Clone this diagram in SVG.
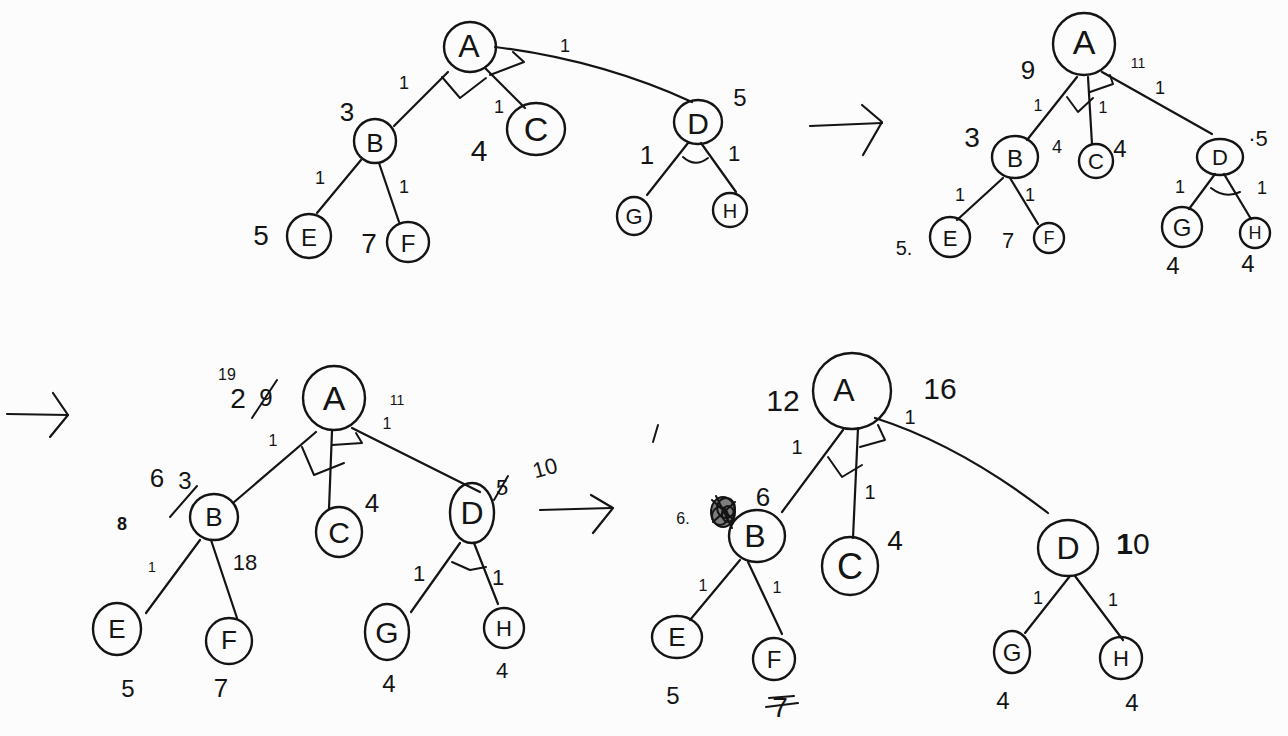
<svg xmlns="http://www.w3.org/2000/svg" width="1288" height="736" viewBox="0 0 1288 736">
  <defs>
    <style>
      .bg { fill: #fdfcfd; }
      .node ellipse { fill: none; stroke: #141414; stroke-width: 2.4; }
      .node text { font-family: "Liberation Sans", "DejaVu Sans", sans-serif; fill: #141414; text-anchor: middle; dominant-baseline: central; }
      .edge { fill: none; stroke: #141414; stroke-width: 2.2; stroke-linecap: round; stroke-linejoin: round; }
      .and { fill: none; stroke: #141414; stroke-width: 2; stroke-linecap: round; stroke-linejoin: round; }
      .lbl { font-family: "Liberation Sans", "DejaVu Sans", sans-serif; fill: #141414; text-anchor: middle; dominant-baseline: central; }
      .mark { fill: none; stroke: #141414; stroke-width: 2; stroke-linecap: round; }
    </style>
  </defs>

  <rect class="bg" x="0" y="0" width="1288" height="736"/>

  <!-- connectors: tree edges, AND arcs and the step arrows -->
  <g id="connectors">
    <!-- step 1 -->
    <line class="edge" x1="448" y1="72" x2="394" y2="126"/>
    <line class="edge" x1="485" y1="68" x2="525" y2="108"/>
    <path class="edge" d="M495,47 Q600,60 692,102"/>
    <polyline class="and" points="442,77 460,98 486,78"/>
    <polyline class="and" points="490,75 524,62 513,52"/>
    <line class="edge" x1="361" y1="160" x2="317" y2="213"/>
    <line class="edge" x1="379" y1="163" x2="399" y2="222"/>
    <line class="edge" x1="688" y1="143" x2="647" y2="195"/>
    <line class="edge" x1="701" y1="143" x2="736" y2="192"/>
    <path class="and" d="M683,157 Q695,168 708,158"/>

    <!-- arrow to step 2 -->
    <line class="edge" x1="810" y1="126" x2="882" y2="123"/>
    <polyline class="edge" points="862,105 882,122 863,155"/>

    <!-- step 2 -->
    <line class="edge" x1="1077" y1="77" x2="1027" y2="140"/>
    <line class="edge" x1="1088" y1="77" x2="1092" y2="144"/>
    <line class="edge" x1="1102" y1="72" x2="1212" y2="134"/>
    <polyline class="and" points="1067,97 1078,112 1093,98"/>
    <polyline class="and" points="1090,92 1113,84 1110,75"/>
    <line class="edge" x1="1003" y1="178" x2="957" y2="220"/>
    <line class="edge" x1="1010" y1="178" x2="1038" y2="224"/>
    <line class="edge" x1="1215" y1="174" x2="1189" y2="209"/>
    <line class="edge" x1="1224" y1="174" x2="1251" y2="219"/>
    <path class="and" d="M1211,188 Q1225,199 1240,192"/>

    <!-- arrow to step 3 -->
    <line class="edge" x1="7" y1="414" x2="68" y2="415"/>
    <polyline class="edge" points="53,393 68,415 50,437"/>

    <!-- step 3 -->
    <line class="edge" x1="316" y1="432" x2="233" y2="503"/>
    <line class="edge" x1="332" y1="431" x2="329" y2="509"/>
    <line class="edge" x1="352" y1="428" x2="480" y2="492"/>
    <polyline class="and" points="302,447 314,475 344,463"/>
    <polyline class="and" points="332,445 362,443 356,433"/>
    <line class="edge" x1="200" y1="540" x2="146" y2="613"/>
    <line class="edge" x1="211" y1="540" x2="237" y2="618"/>
    <line class="edge" x1="460" y1="543" x2="411" y2="612"/>
    <line class="edge" x1="474" y1="543" x2="498" y2="604"/>
    <polyline class="and" points="452,562 470,570 486,567"/>

    <!-- arrow to step 4 -->
    <line class="edge" x1="540" y1="510" x2="611" y2="508"/>
    <polyline class="edge" points="591,495 613,508 593,533"/>

    <!-- step 4 -->
    <line class="edge" x1="843" y1="430" x2="782" y2="512"/>
    <line class="edge" x1="858" y1="428" x2="853" y2="538"/>
    <path class="edge" d="M875,418 Q960,445 1048,513"/>
    <polyline class="and" points="828,457 842,477 862,465"/>
    <polyline class="and" points="860,447 885,440 878,425"/>
    <line class="edge" x1="740" y1="560" x2="690" y2="620"/>
    <line class="edge" x1="748" y1="562" x2="782" y2="634"/>
    <line class="edge" x1="1070" y1="576" x2="1025" y2="633"/>
    <line class="edge" x1="1075" y1="576" x2="1123" y2="640"/>
  </g>

  <!-- step 1 nodes -->
  <g id="s1-A" class="node"><ellipse cx="470" cy="47" rx="26" ry="25"/><text x="469" y="46" font-size="32">A</text></g>
  <g id="s1-B" class="node"><ellipse cx="375" cy="141" rx="21" ry="22"/><text x="375" y="143" font-size="26">B</text></g>
  <g id="s1-C" class="node"><ellipse cx="536" cy="129" rx="29" ry="26"/><text x="536" y="129" font-size="34">C</text></g>
  <g id="s1-D" class="node"><ellipse cx="698" cy="122" rx="24" ry="22"/><text x="698" y="123" font-size="30">D</text></g>
  <g id="s1-E" class="node"><ellipse cx="309" cy="236" rx="22" ry="22"/><text x="309" y="237" font-size="24">E</text></g>
  <g id="s1-F" class="node"><ellipse cx="408" cy="242" rx="21" ry="20"/><text x="408" y="243" font-size="24">F</text></g>
  <g id="s1-G" class="node"><ellipse cx="634" cy="216" rx="17" ry="19"/><text x="634" y="216" font-size="22">G</text></g>
  <g id="s1-H" class="node"><ellipse cx="730" cy="210" rx="17" ry="17"/><text x="730" y="211" font-size="20">H</text></g>

  <!-- step 2 nodes -->
  <g id="s2-A" class="node"><ellipse cx="1084" cy="44" rx="31" ry="31"/><text x="1084" y="42" font-size="34">A</text></g>
  <g id="s2-B" class="node"><ellipse cx="1015" cy="157" rx="23" ry="21"/><text x="1015" y="158" font-size="24">B</text></g>
  <g id="s2-C" class="node"><ellipse cx="1096" cy="161" rx="17" ry="17"/><text x="1096" y="161" font-size="22">C</text></g>
  <g id="s2-D" class="node"><ellipse cx="1220" cy="157" rx="23" ry="18"/><text x="1220" y="157" font-size="22">D</text></g>
  <g id="s2-E" class="node"><ellipse cx="950" cy="237" rx="20" ry="20"/><text x="950" y="238" font-size="22">E</text></g>
  <g id="s2-F" class="node"><ellipse cx="1049" cy="238" rx="15" ry="15"/><text x="1049" y="238" font-size="18">F</text></g>
  <g id="s2-G" class="node"><ellipse cx="1182" cy="227" rx="20" ry="20"/><text x="1182" y="227" font-size="24">G</text></g>
  <g id="s2-H" class="node"><ellipse cx="1255" cy="233" rx="15" ry="15"/><text x="1255" y="233" font-size="18">H</text></g>

  <!-- step 3 nodes -->
  <g id="s3-A" class="node"><ellipse cx="334" cy="398" rx="31" ry="32"/><text x="334" y="398" font-size="34">A</text></g>
  <g id="s3-B" class="node"><ellipse cx="214" cy="517" rx="24" ry="23"/><text x="214" y="517" font-size="26">B</text></g>
  <g id="s3-C" class="node"><ellipse cx="339" cy="532" rx="23" ry="25"/><text x="339" y="532" font-size="30">C</text></g>
  <g id="s3-D" class="node"><ellipse cx="472" cy="513" rx="22" ry="30"/><text x="472" y="513" font-size="32">D</text></g>
  <g id="s3-E" class="node"><ellipse cx="117" cy="629" rx="24" ry="26"/><text x="117" y="629" font-size="26">E</text></g>
  <g id="s3-F" class="node"><ellipse cx="229" cy="641" rx="23" ry="23"/><text x="229" y="640" font-size="26">F</text></g>
  <g id="s3-G" class="node"><ellipse cx="387" cy="632" rx="22" ry="28"/><text x="387" y="632" font-size="30">G</text></g>
  <g id="s3-H" class="node"><ellipse cx="504" cy="628" rx="20" ry="20"/><text x="504" y="628" font-size="22">H</text></g>

  <!-- step 4 nodes -->
  <g id="s4-A" class="node"><ellipse cx="852" cy="391" rx="39" ry="38"/><text x="844" y="390" font-size="32">A</text></g>
  <g id="s4-B" class="node"><ellipse cx="757" cy="536" rx="28" ry="26"/><text x="755" y="536" font-size="32">B</text></g>
  <g id="s4-C" class="node"><ellipse cx="850" cy="566" rx="28" ry="29"/><text x="850" y="566" font-size="36">C</text></g>
  <g id="s4-D" class="node"><ellipse cx="1068" cy="548" rx="30" ry="28"/><text x="1068" y="548" font-size="32">D</text></g>
  <g id="s4-E" class="node"><ellipse cx="677" cy="637" rx="25" ry="21"/><text x="677" y="637" font-size="26">E</text></g>
  <g id="s4-F" class="node"><ellipse cx="774" cy="659" rx="21" ry="21"/><text x="774" y="659" font-size="24">F</text></g>
  <g id="s4-G" class="node"><ellipse cx="1012" cy="652" rx="18" ry="21"/><text x="1012" y="652" font-size="24">G</text></g>
  <g id="s4-H" class="node"><ellipse cx="1121" cy="658" rx="21" ry="21"/><text x="1121" y="658" font-size="22">H</text></g>

  <!-- costs and heuristic values -->
  <g id="labels">
    <!-- step 1 -->
    <text class="lbl" x="404" y="83" font-size="18">1</text>
    <text class="lbl" x="347" y="112" font-size="26">3</text>
    <text class="lbl" x="499" y="107" font-size="18">1</text>
    <text class="lbl" x="479" y="150" font-size="30">4</text>
    <text class="lbl" x="565" y="46" font-size="18">1</text>
    <text class="lbl" x="740" y="97" font-size="24">5</text>
    <text class="lbl" x="647" y="155" font-size="26">1</text>
    <text class="lbl" x="734" y="153" font-size="22">1</text>
    <text class="lbl" x="320" y="178" font-size="18">1</text>
    <text class="lbl" x="404" y="187" font-size="18">1</text>
    <text class="lbl" x="261" y="235" font-size="28">5</text>
    <text class="lbl" x="369" y="243" font-size="28">7</text>

    <!-- step 2 -->
    <text class="lbl" x="1028" y="70" font-size="26">9</text>
    <text class="lbl" x="1138" y="63" font-size="14">11</text>
    <text class="lbl" x="1160" y="88" font-size="18">1</text>
    <text class="lbl" x="1038" y="105" font-size="16">1</text>
    <text class="lbl" x="1103" y="107" font-size="16">1</text>
    <text class="lbl" x="972" y="137" font-size="28">3</text>
    <text class="lbl" x="1057" y="147" font-size="18">4</text>
    <text class="lbl" x="1120" y="148" font-size="24">4</text>
    <text class="lbl" x="1258" y="138" font-size="22">·5</text>
    <text class="lbl" x="904" y="248" font-size="20">5.</text>
    <text class="lbl" x="960" y="195" font-size="18">1</text>
    <text class="lbl" x="1030" y="195" font-size="18">1</text>
    <text class="lbl" x="1008" y="240" font-size="22">7</text>
    <text class="lbl" x="1180" y="187" font-size="18">1</text>
    <text class="lbl" x="1262" y="188" font-size="18">1</text>
    <text class="lbl" x="1173" y="265" font-size="24">4</text>
    <text class="lbl" x="1248" y="263" font-size="24">4</text>

    <!-- step 3 -->
    <text class="lbl" x="227" y="374" font-size="16">19</text>
    <text class="lbl" x="238" y="398" font-size="28">2</text>
    <text class="lbl" x="266" y="397" font-size="24">9</text>
    <line class="mark" x1="252" y1="418" x2="277" y2="380"/>
    <text class="lbl" x="273" y="440" font-size="16">1</text>
    <text class="lbl" x="397" y="400" font-size="14">11</text>
    <text class="lbl" x="387" y="423" font-size="16">1</text>
    <text class="lbl" x="157" y="478" font-size="26">6</text>
    <text class="lbl" x="185" y="480" font-size="24">3</text>
    <line class="mark" x1="170" y1="517" x2="197" y2="486"/>
    <text class="lbl" x="122" y="524" font-size="18" font-weight="bold">8</text>
    <text class="lbl" x="152" y="567" font-size="14">1</text>
    <text class="lbl" x="245" y="562" font-size="22">18</text>
    <text class="lbl" x="372" y="503" font-size="26">4</text>
    <text class="lbl" x="502" y="487" font-size="22">5</text>
    <line class="mark" x1="494" y1="500" x2="508" y2="476"/>
    <text class="lbl" x="545" y="468" font-size="22" transform="rotate(-15 545 468)">10</text>
    <text class="lbl" x="419" y="573" font-size="22">1</text>
    <text class="lbl" x="498" y="577" font-size="22">1</text>
    <text class="lbl" x="128" y="688" font-size="24">5</text>
    <text class="lbl" x="221" y="688" font-size="26">7</text>
    <text class="lbl" x="389" y="683" font-size="24">4</text>
    <text class="lbl" x="502" y="670" font-size="22">4</text>

    <!-- step 4 -->
    <text class="lbl" x="783" y="400" font-size="30">12</text>
    <text class="lbl" x="940" y="388" font-size="30">16</text>
    <text class="lbl" x="910" y="417" font-size="20">1</text>
    <text class="lbl" x="797" y="447" font-size="20">1</text>
    <text class="lbl" x="870" y="492" font-size="20">1</text>
    <text class="lbl" x="763" y="497" font-size="26">6</text>
    <!-- crossed-out value scribbled over beside B -->
    <g class="mark" stroke-width="1.6">
      <ellipse cx="723" cy="512" rx="12" ry="15" fill="#141414" fill-opacity="0.55"/>
      <ellipse cx="726" cy="508" rx="9" ry="10"/>
      <ellipse cx="720" cy="516" rx="8" ry="9"/>
      <ellipse cx="728" cy="514" rx="6" ry="8"/>
      <path d="M712,500 L734,520 M713,522 L735,502 M716,496 L732,528"/>
    </g>
    <text class="lbl" x="683" y="518" font-size="16">6.</text>
    <line class="mark" x1="653" y1="442" x2="658" y2="425"/>
    <text class="lbl" x="895" y="540" font-size="28">4</text>
    <text class="lbl" x="1133" y="543" font-size="30"><tspan font-weight="bold">1</tspan>0</text>
    <text class="lbl" x="703" y="585" font-size="16">1</text>
    <text class="lbl" x="777" y="587" font-size="16">1</text>
    <text class="lbl" x="673" y="695" font-size="24">5</text>
    <text class="lbl" x="780" y="707" font-size="28">7</text>
    <line class="mark" x1="766" y1="707" x2="798" y2="703"/>
    <line class="mark" x1="769" y1="698" x2="794" y2="696"/>
    <text class="lbl" x="1038" y="598" font-size="18">1</text>
    <text class="lbl" x="1113" y="600" font-size="18">1</text>
    <text class="lbl" x="1003" y="700" font-size="24">4</text>
    <text class="lbl" x="1132" y="702" font-size="24">4</text>
  </g>
</svg>
